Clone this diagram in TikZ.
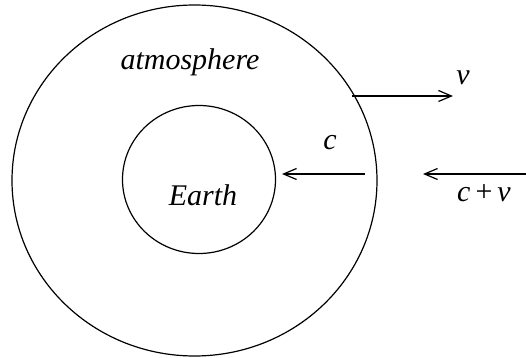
\documentclass[tikz,border=0pt]{standalone}
\usepackage{fontspec}
\newfontfamily\timesit{Liberation Serif}
\usepackage{tikz}
\usetikzlibrary{shapes.geometric,arrows.meta}

\begin{document}
\begin{tikzpicture}[x=0.5pt, y=-0.5pt, font=\timesit\fontsize{15}{18}\selectfont\itshape,
  >={Straight Barb[length=6.5pt, width=5.5pt]},
  ring/.style={draw, ellipse, inner sep=0pt, line width=0.6pt},
  lbl/.style={inner sep=0pt},
  arr/.style={->, line width=0.6pt}]
  \useasboundingbox (0,0) rectangle (526,358);
  % layers
  \node[ring, minimum width=182.5pt, minimum height=175.5pt] (atm) at (194.5,180.5) {};
  \node[ring, minimum width=76.5pt, minimum height=74pt] (earth) at (199,179.5) {};
  % texts
  \node[lbl] (atmtext) at (190,62) {atmosphere};
  \node[lbl] (earthtext) at (203,195) {Earth};
  \node[lbl] (ltext) at (330,143) {c};
  \node[lbl] (vtext) at (463,78) {v};
  \node[lbl] (cvtext) at (484,193) {c\kern2.5pt{\upshape +}\kern2.5pt v};
  % arrow ends
  \coordinate (vstart) at (352,96);
  \coordinate (vend) at (453,96);
  \coordinate (cstart) at (365,174);
  \coordinate (cend) at (282,174);
  \coordinate (cvstart) at (526,174);
  \coordinate (cvend) at (423,174);
  \draw[arr] (vstart) -- (vend);
  \draw[arr] (cstart) -- (cend);
  \draw[arr] (cvstart) -- (cvend);
\end{tikzpicture}
\end{document}
